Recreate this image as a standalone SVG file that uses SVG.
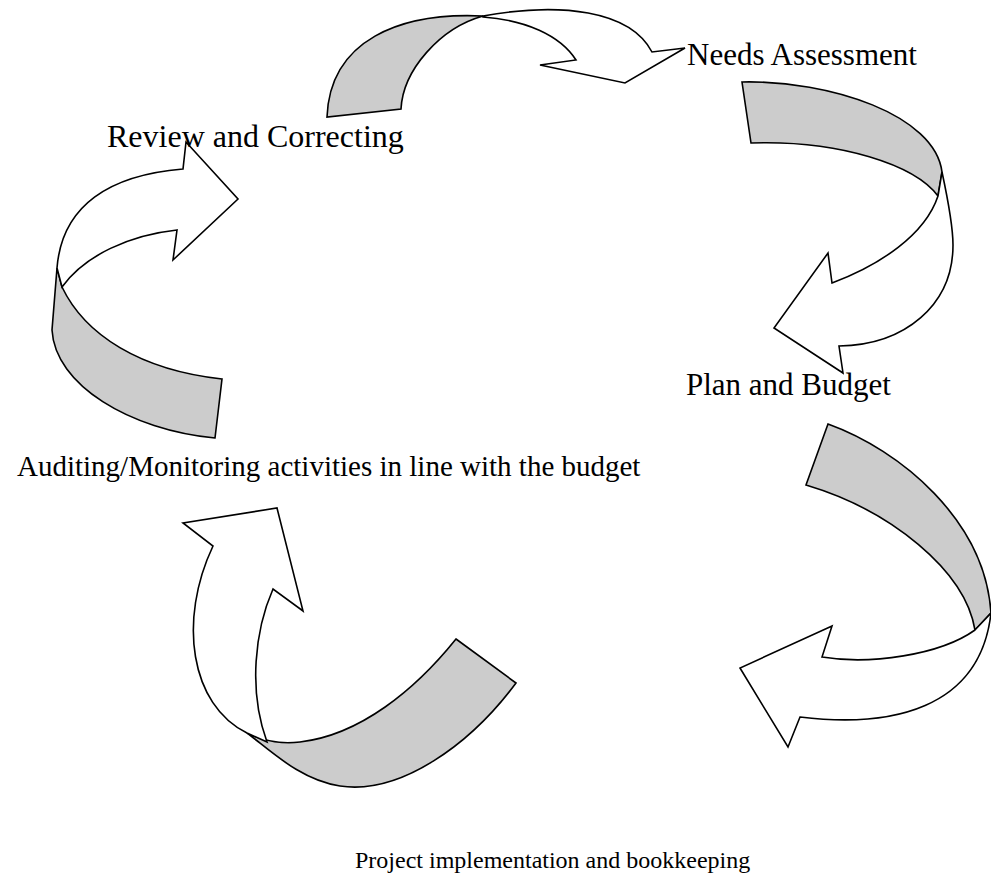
<svg xmlns="http://www.w3.org/2000/svg" width="991" height="885" viewBox="0 0 991 885">
  <style>
    .back { fill: #cccccc; stroke: #000000; stroke-width: 1.6; stroke-linejoin: miter; }
    .front { fill: #ffffff; stroke: #000000; stroke-width: 1.6; stroke-linejoin: miter; }
    .label { font-family: "Liberation Serif", "Times New Roman", serif; font-size: 31px; fill: #000000; }
  </style>
  <rect width="991" height="885" fill="#ffffff"/>

  <!-- curved twisted arrows between the cycle stages -->
  <g id="connectors">
    <g id="arrow-review-to-needs">
      <path class="back" d="M327,117 C330,40 400,12 483,16 C440,28 403,70 401,109 Z"/>
      <path class="front" d="M483,16 C560,2 630,10 652,52 L685,48 L625,83 L540,65 L576,60 C560,35 525,20 483,17 Z"/>
    </g>
    <g id="arrow-needs-to-plan">
      <path class="back" d="M742,82 C830,80 935,115 942,172 L938,196 C915,165 840,140 751,143 Z"/>
      <path class="front" d="M942,172 C948,200 953,225 953,245 C953,305 905,345 839,346 L843,373 L774,328 L828,253 L832,283 C880,265 925,235 938,196 Z"/>
    </g>
    <g id="arrow-plan-to-project">
      <path class="back" d="M828,424 C900,450 985,520 991,613 L975,630 C965,570 890,510 806,485 Z"/>
      <path class="front" d="M991,613 C980,710 890,728 800,717 L788,747 L740,668 L832,626 L822,657 C870,665 940,655 975,630 Z"/>
    </g>
    <g id="arrow-project-to-auditing">
      <path class="back" d="M456,639 L516,683 C470,745 400,795 340,786 C300,780 270,750 247,733 C265,742 285,744 300,742 C360,735 415,690 456,639 Z"/>
      <path class="front" d="M247,733 C190,705 178,620 213,546 L183,523 L277,508 L303,611 L273,589 C255,630 248,690 267,742 Z"/>
    </g>
    <g id="arrow-auditing-to-review">
      <path class="back" d="M57,268 L52,330 C55,385 130,430 215,438 L222,379 C140,370 85,335 62,287 Z"/>
      <path class="front" d="M57,268 C62,205 110,175 183,169 L186,142 L238,199 L173,260 L177,230 C130,235 85,255 62,287 Z"/>
    </g>
  </g>

  <!-- stage labels -->
  <g id="node-needs"><text class="label" x="687" y="65">Needs Assessment</text></g>
  <g id="node-review"><text class="label" x="107" y="147" style="font-size:32px">Review and Correcting</text></g>
  <g id="node-plan"><text class="label" x="686" y="395">Plan and Budget</text></g>
  <g id="node-auditing"><text class="label" x="17" y="476" style="font-size:29px">Auditing/Monitoring activities in line with the budget</text></g>
  <g id="node-project"><text class="label" x="355" y="868" style="font-size:24px">Project implementation and bookkeeping</text></g>
</svg>
